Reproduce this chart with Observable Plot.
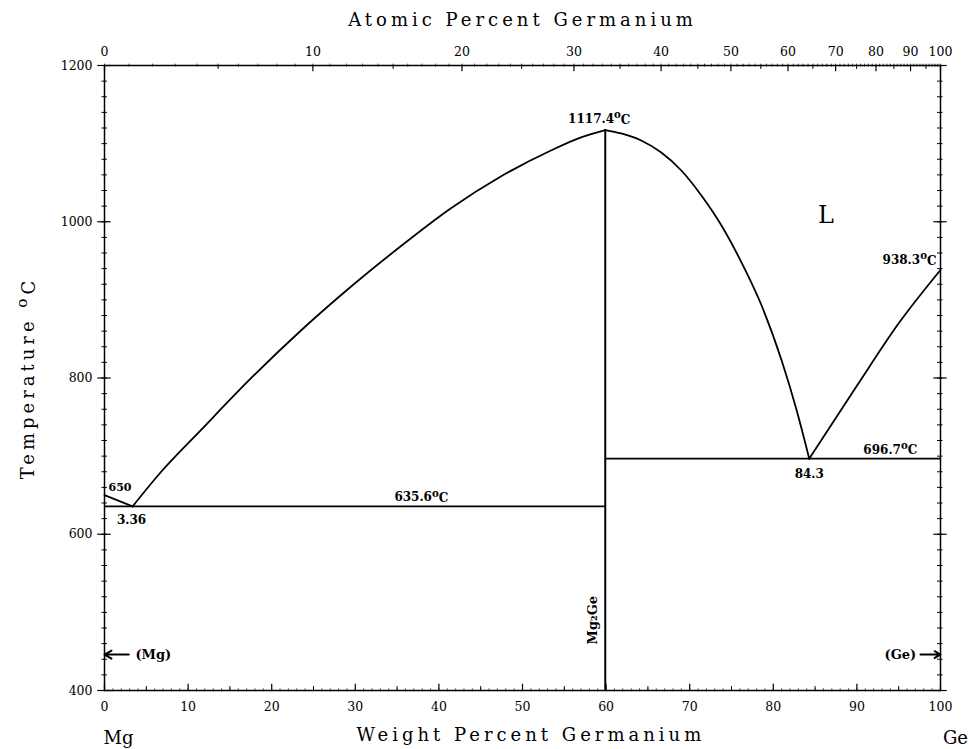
<!DOCTYPE html>
<html><head><meta charset="utf-8">
<script src="https://cdn.jsdelivr.net/npm/d3@7"></script>
<script src="https://cdn.jsdelivr.net/npm/@observablehq/plot@0.6"></script>
<style>body{margin:0;background:#fff}</style>
</head><body><div id="chart"></div>
<script>
// atomic masses used to convert atomic % (top axis) to weight % (plot x)
const massMg = 24.305, massGe = 72.63;
const atToWt = a => 100 * a * massGe / (a * massGe + (100 - a) * massMg);
const wtToAt = w => 100 * (w / massGe) / (w / massGe + (100 - w) / massMg);

// tick labels
const topTickLabels = [0, 10, 20, 30, 40, 50, 60, 70, 80, 90, 100];
const bottomTickLabels = [0, 10, 20, 30, 40, 50, 60, 70, 80, 90, 100];
const tempTickLabels = [400, 600, 800, 1000, 1200];

// key points
const mgMelt = 650, geMelt = 938.3;
const eut1Wt = 3.36, eut1T = 635.6;
const eut2Wt = 84.3, eut2T = 696.7;
const mg2geWt = 59.9, mg2geT = 1117.4;

// liquidus curves
const liqMgWt = [0, 3.36];
const liqMgT = [650, 635.6];
const liqLeftWt = [3.36, 6.7, 11.5, 17.5, 23.5, 29.5, 35.4, 41.4, 47.4, 53.4, 57.0, 59.9];
const liqLeftT  = [635.6, 679, 733, 799.4, 860.8, 917.1, 968.3, 1017, 1057.9, 1091.2, 1108, 1117.4];
const liqRightWt = [59.9, 61.8, 64.2, 66.6, 69.0, 71.4, 73.8, 76.2, 78.6, 81.0, 82.8, 84.3];
const liqRightT  = [1117.4, 1113, 1104, 1088.6, 1065.6, 1033.6, 995.2, 947.8, 892.8, 822.4, 758.4, 696.7];
const liqGeWt = [84.3, 90, 95, 100];
const liqGeT  = [696.7, 790, 870, 938.3];

const pts = (xs, ts) => xs.map((x, i) => ({x, t: ts[i]}));

const serif = "DejaVu Serif";
const xMinor = d3.range(0, 101, 1);
const xMid = d3.range(5, 100, 10);
const topMinor = d3.range(0, 101, 1).map(atToWt);
const topMid = d3.range(5, 100, 10).map(atToWt);
const topMajor = topTickLabels.map(atToWt);
const tMinor = d3.range(400, 1201, 20);

const lineStyle = {x: "x", y: "t", stroke: "black", strokeWidth: 1.8, curve: "monotone-x"};
const lbl = {fontSize: 12, fontFamily: serif, fontWeight: "bold"};

const titles = ["Atomic Percent Germanium", "Weight Percent Germanium", "Temperature ᵒC"];

const chart = Plot.plot({
  width: 969, height: 749,
  marginLeft: 104, marginRight: 29, marginTop: 65, marginBottom: 59,
  x: {domain: [0, 100]},
  y: {domain: [400, 1200]},
  style: {fontFamily: serif, background: "white"},
  marks: [
    Plot.frame({stroke: "black", strokeWidth: 1.5}),
    // bottom ticks
    Plot.ruleX(xMinor, {x: d => d, y1: 398.3, y2: 402, stroke: "black", strokeWidth: 0.8}),
    Plot.ruleX(xMid, {x: d => d, y1: 400, y2: 405, stroke: "black", strokeWidth: 1}),
    Plot.ruleX(bottomTickLabels, {x: d => d, y1: 400, y2: 408, stroke: "black", strokeWidth: 1.2}),
    // top ticks
    Plot.ruleX(topMinor, {x: d => d, y1: 1198, y2: 1201.7, stroke: "black", strokeWidth: 0.8}),
    Plot.ruleX(topMid, {x: d => d, y1: 1200, y2: 1195, stroke: "black", strokeWidth: 1}),
    Plot.ruleX(topMajor, {x: d => d, y1: 1200, y2: 1192, stroke: "black", strokeWidth: 1.2}),
    // left / right ticks
    Plot.ruleY(tMinor, {y: d => d, x1: -0.3, x2: 0.35, stroke: "black", strokeWidth: 1}),
    Plot.ruleY(tempTickLabels, {y: d => d, x1: -0.8, x2: 0.8, stroke: "black", strokeWidth: 1.2}),
    Plot.ruleY(tMinor, {y: d => d, x1: 99.65, x2: 100.3, stroke: "black", strokeWidth: 1}),
    Plot.ruleY(tempTickLabels, {y: d => d, x1: 99.2, x2: 100.8, stroke: "black", strokeWidth: 1.2}),
    // tick labels
    Plot.axisX({anchor: "bottom", ticks: bottomTickLabels, tickSize: 0, tickPadding: 12, fontSize: 12.5, fontFamily: serif, tickFormat: d => String(d)}),
    Plot.axisX({anchor: "top", ticks: topMajor, tickSize: 0, tickPadding: 10, fontSize: 12.5, fontFamily: serif, tickFormat: d => String(Math.round(wtToAt(d)))}),
    Plot.axisY({anchor: "left", ticks: tempTickLabels, tickSize: 0, tickPadding: 12, fontSize: 12.5, fontFamily: serif, tickFormat: d => String(d)}),
    // phase boundaries
    Plot.ruleY([eut1T], {x1: 0, x2: mg2geWt, stroke: "black", strokeWidth: 1.8}),
    Plot.ruleY([eut2T], {x1: mg2geWt, x2: 100, stroke: "black", strokeWidth: 1.8}),
    Plot.ruleX([mg2geWt], {y1: 400, y2: mg2geT, stroke: "black", strokeWidth: 2}),
    Plot.line(pts(liqMgWt, liqMgT), {...lineStyle, curve: "linear"}),
    Plot.line(pts(liqLeftWt, liqLeftT), lineStyle),
    Plot.line(pts(liqRightWt, liqRightT), lineStyle),
    Plot.line(pts(liqGeWt, liqGeT), lineStyle),
    // arrows for terminal solid solutions
    Plot.arrow([{x1: 2.9, x2: 0, y: 446}], {x1: "x1", x2: "x2", y1: "y", y2: "y", stroke: "black", strokeWidth: 2, headLength: 7}),
    Plot.arrow([{x1: 97.6, x2: 100, y: 446}], {x1: "x1", x2: "x2", y1: "y", y2: "y", stroke: "black", strokeWidth: 2, headLength: 7}),
    Plot.text(["(Mg)"], {x: 3.7, y: 446, text: d => d, textAnchor: "start", ...lbl, fontSize: 13}),
    Plot.text(["(Ge)"], {x: 97.1, y: 446, text: d => d, textAnchor: "end", ...lbl, fontSize: 13}),
    // point labels
    Plot.text([mg2geT], {x: mg2geWt, y: d => d, text: d => `${d}ᵒC`, dx: -6, dy: -11, ...lbl}),
    Plot.text([geMelt], {x: 100, y: d => d, text: d => `${d}ᵒC`, dx: -4, dy: -10, textAnchor: "end", ...lbl}),
    Plot.text([eut2T], {x: 94, y: d => d, text: d => `${d}ᵒC`, dy: -9, ...lbl}),
    Plot.text([eut2Wt], {x: d => d, y: eut2T, text: d => String(d), dy: 15, ...lbl}),
    Plot.text([eut1T], {x: 37.9, y: d => d, text: d => `${d}ᵒC`, dy: -9, ...lbl}),
    Plot.text([eut1Wt], {x: d => d, y: eut1T, text: d => String(d), dx: -1, dy: 14, ...lbl}),
    Plot.text([mgMelt], {x: 0, y: d => d, text: d => String(d), textAnchor: "start", dx: 4, dy: -8, ...lbl, fontSize: 11}),
    Plot.text(["Mg₂Ge"], {x: mg2geWt, y: 490, text: d => d, rotate: -90, dx: -12, ...lbl, fontSize: 13}),
    Plot.text(["L"], {x: 86.3, y: 1008, text: d => d, fontSize: 24, fontFamily: serif}),
    // axis titles
    Plot.text([titles[0]], {x: 50, y: 1200, text: d => d, dy: -45, fontSize: 18, fontFamily: serif}),
    Plot.text([titles[1]], {x: 51, y: 400, text: d => d, dy: 45, fontSize: 18, fontFamily: serif}),
    Plot.text(["Mg"], {x: 0, y: 400, text: d => d, dx: 14, dy: 48, fontSize: 18, fontFamily: serif}),
    Plot.text(["Ge"], {x: 100, y: 400, text: d => d, dx: 15, dy: 48, fontSize: 18, fontFamily: serif}),
    Plot.text([titles[2]], {x: 0, y: 800, text: d => d, dx: -76, rotate: -90, fontSize: 18, fontFamily: serif})
  ]
});

// typographic touches: letter spacing on titles, raised "o" for degree
d3.select(chart).selectAll("text").each(function() {
  const s = this.textContent;
  if (titles.includes(s)) this.setAttribute("letter-spacing", "4px");
  if (s.includes("ᵒ")) {
    const [a, b] = s.split("ᵒ");
    const el = d3.select(this);
    el.text(null);
    el.append("tspan").text(a);
    el.append("tspan").attr("dy", "-0.45em").attr("font-size", "0.85em").text("o");
    el.append("tspan").attr("dy", "0.45em").text(b);
  }
});
document.getElementById("chart").appendChild(chart);
</script>
</body></html>
